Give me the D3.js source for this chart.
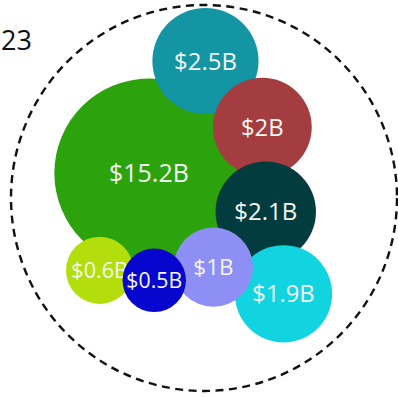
<!DOCTYPE html>
<html><head><meta charset="utf-8">
<script src="https://cdn.jsdelivr.net/npm/d3@7"></script>
<style>
  body { margin: 0; background: #fff; }
  text { font-family: "Open Sans", "Noto Sans", sans-serif; }
</style></head>
<body><svg id="chart" width="398" height="398"></svg>
<script>
// Funding by segment, in billions of dollars
const labels = ["$15.2B", "$2.5B", "$2B", "$2.1B", "$1.9B", "$1B", "$0.6B", "$0.5B"];
const values = [15.2, 2.5, 2, 2.1, 1.9, 1, 0.6, 0.5];
const palette = ["#2ca20c", "#1395a3", "#a33d3f", "#033c3e", "#12d3e0", "#8e8ff5", "#b3de0b", "#0606cf"];
// order in which the bubbles are fed to the sibling packer
const packOrder = [0, 3, 2, 5, 7, 1, 4, 6];
const yearLabel = "23";

const width = 398, height = 398;
const cx = 204, cy = 198, outerR = 193;
const svg = d3.select("#chart");

// bubble radius grows gently with the amount
const rScale = d3.scalePow().exponent(0.32).domain([0, d3.max(values)]).range([0, 104]);
const fontScale = d3.scaleLinear().domain([30, 50]).range([21, 24]).clamp(true);
const color = d3.scaleOrdinal().domain(d3.range(values.length)).range(palette);

// pack a little tighter than the drawn radius so neighbours overlap slightly
const nodes = packOrder.map(i => ({ i, r: rScale(values[i]) * 0.85, R: rScale(values[i]) }));
d3.packSiblings(nodes);
nodes.forEach(n => { n.y = -n.y; });

// centre the cluster on its radius-weighted centroid and fit it inside the outline
const wSum = d3.sum(nodes, n => n.R);
const mx = d3.sum(nodes, n => n.R * n.x) / wSum;
const my = d3.sum(nodes, n => n.R * n.y) / wSum;
const extent = d3.max(nodes, n => Math.hypot(n.x - mx, n.y - my) + n.R);
const k = 190 / extent;
const turn = 18.26 * Math.PI / 180;
nodes.forEach(n => {
  const dx = n.x - mx, dy = n.y - my;
  n.px = cx + k * (dx * Math.cos(turn) - dy * Math.sin(turn));
  n.py = cy + k * (dx * Math.sin(turn) + dy * Math.cos(turn));
  n.pr = n.R * k;
});
nodes.sort((a, b) => a.i - b.i);

// dashed outline around the cluster
svg.append("circle")
  .attr("cx", cx).attr("cy", cy).attr("r", outerR)
  .attr("fill", "none")
  .attr("stroke", "#111")
  .attr("stroke-width", 2.4)
  .attr("stroke-dasharray", "8,5.5");

const bubble = svg.append("g").selectAll("g")
  .data(nodes)
  .join("g")
  .attr("transform", d => `translate(${d.px},${d.py})`);

bubble.append("circle")
  .attr("r", d => d.pr)
  .attr("fill", d => color(d.i));

bubble.append("text")
  .attr("text-anchor", "middle")
  .attr("dy", "0.36em")
  .attr("fill", "#f4f6f2")
  .attr("font-size", d => d.i === 0 ? 25 : fontScale(d.pr))
  .text(d => labels[d.i]);

svg.append("text")
  .attr("x", 1).attr("y", 50)
  .attr("font-size", 27)
  .attr("fill", "#111")
  .text(yearLabel);
</script></body></html>
